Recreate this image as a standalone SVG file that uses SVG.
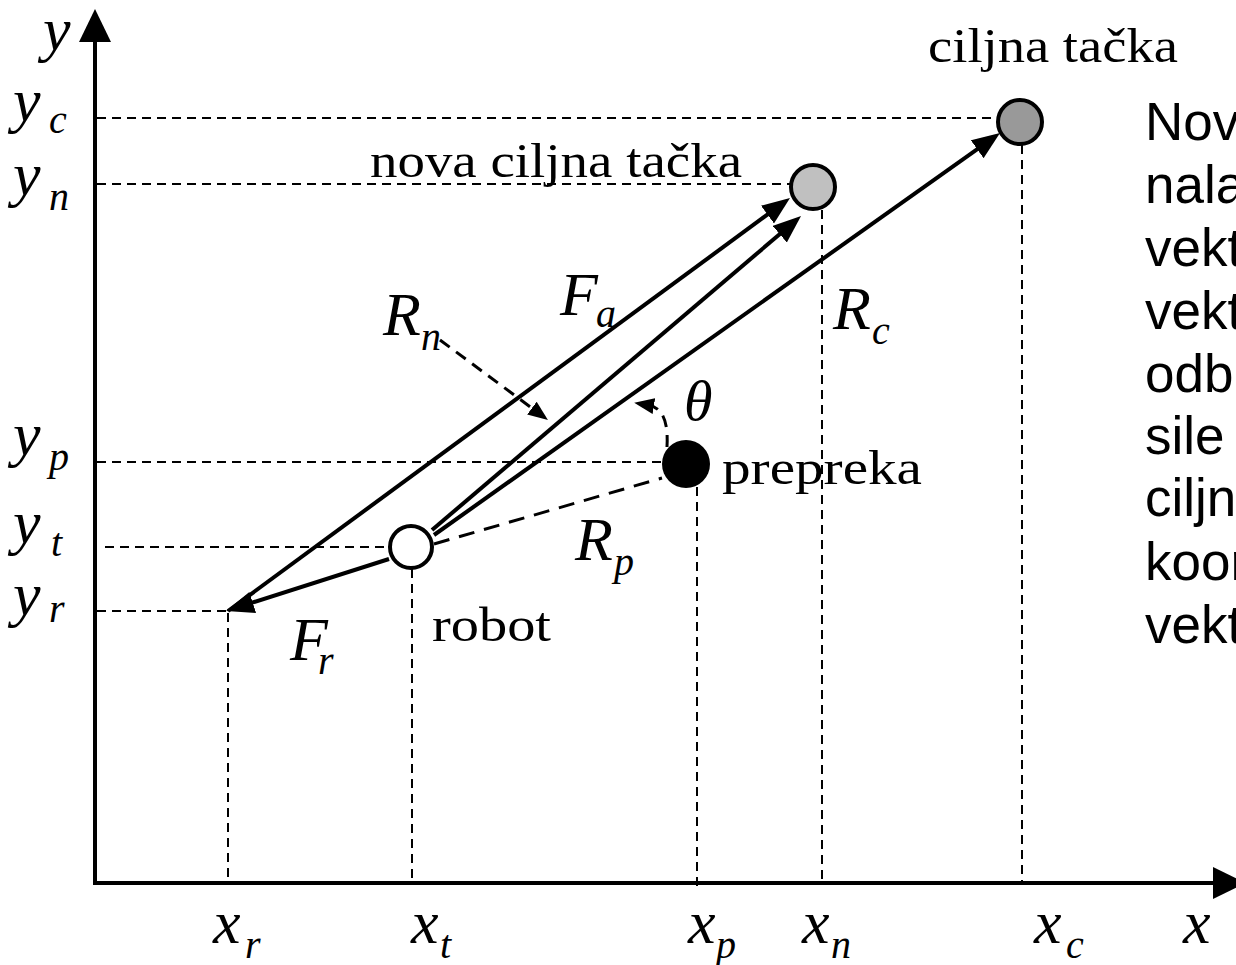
<svg xmlns="http://www.w3.org/2000/svg" width="1236" height="965" viewBox="0 0 1236 965">
<style>
.ax{stroke:#000;stroke-width:4;fill:none}
.gd{stroke:#000;stroke-width:2;stroke-dasharray:9 6;fill:none}
.vec{stroke:#000;stroke-width:4;fill:none;marker-end:url(#ah)}
.pt{stroke:#000;stroke-width:3;stroke-dasharray:12 8;fill:none;marker-end:url(#ahs)}
.it{font-family:"Liberation Serif","Times New Roman",serif;font-style:italic;font-size:62px}
.sub{font-family:"Liberation Serif","Times New Roman",serif;font-style:italic;font-size:40px}
.lb{font-family:"Liberation Serif","Times New Roman",serif;font-size:48px}
.tx{font-family:"Liberation Sans",Arial,sans-serif;font-size:53px}
.node{stroke:#000;stroke-width:4}
</style>
<defs>
<marker id="ah" markerUnits="userSpaceOnUse" markerWidth="30" markerHeight="24" refX="8" refY="11" orient="auto"><path d="M0,0 L28,11 L0,22 z" fill="#000"/></marker>
<marker id="ahs" markerUnits="userSpaceOnUse" markerWidth="22" markerHeight="18" refX="6" refY="8" orient="auto"><path d="M0,0 L20,8 L0,16 z" fill="#000"/></marker>
</defs>
<rect width="1236" height="965" fill="#fff"/>
<g id="guides">
<line class="gd" x1="97" y1="118" x2="998" y2="118"/>
<line class="gd" x1="97" y1="184" x2="791" y2="184"/>
<line class="gd" x1="97" y1="462" x2="664" y2="462"/>
<line class="gd" x1="105" y1="547" x2="389" y2="547"/>
<line class="gd" x1="97" y1="611" x2="226" y2="611"/>
<line class="gd" x1="228" y1="613" x2="228" y2="883"/>
<line class="gd" x1="412" y1="569" x2="412" y2="883"/>
<line class="gd" x1="697" y1="487" x2="697" y2="890"/>
<line class="gd" x1="822" y1="210" x2="822" y2="883"/>
<line class="gd" x1="1022" y1="145" x2="1022" y2="883"/>
</g>
<g id="axes">
<line class="ax" x1="95" y1="885" x2="95" y2="40"/>
<polygon points="95,9 79,42 111,42" fill="#000"/>
<line class="ax" x1="93" y1="883" x2="1215" y2="883"/>
<polygon points="1213,867 1246,883 1213,899" fill="#000"/>
<text class="it" x="43" y="50">y</text>
<text class="it" x="1183" y="943">x</text>
</g>
<g id="connectors">
<path class="vec" d="M434,535 L983.7,144.6"/>
<path class="vec" d="M432,530 L785.8,229"/>
<path class="vec" d="M228,611 L773.9,209.8"/>
<path class="vec" d="M389,559 L245.1,604.9"/>
<path class="pt" d="M440,340 L536.7,411.7"/>
<path class="pt" d="M667,447 C668,428 666,408 648,405"/>
<path d="M434,544 L662,478" stroke="#000" stroke-width="3" stroke-dasharray="16 10" fill="none"/>
</g>
<g id="goal">
<circle class="node" cx="1020" cy="122" r="22" fill="#999999"/>
<text class="lb" x="928" y="62" textLength="250" lengthAdjust="spacingAndGlyphs">ciljna tačka</text>
</g>
<g id="new-goal">
<circle class="node" cx="813" cy="187" r="22" fill="#c0c0c0"/>
<text class="lb" x="370" y="177" textLength="372" lengthAdjust="spacingAndGlyphs">nova ciljna tačka</text>
</g>
<g id="obstacle">
<circle cx="686" cy="464" r="24" fill="#000"/>
<text class="lb" x="722" y="484" textLength="200" lengthAdjust="spacingAndGlyphs">prepreka</text>
</g>
<g id="robot">
<circle class="node" cx="411" cy="547" r="21" fill="#fff"/>
<text class="lb" x="432" y="641" textLength="119" lengthAdjust="spacingAndGlyphs">robot</text>
</g>
<g id="labels">
<text class="it" x="13" y="121">y</text><text class="sub" x="49" y="133">c</text>
<text class="it" x="13" y="195">y</text><text class="sub" x="49" y="210">n</text>
<text class="it" x="13" y="455">y</text><text class="sub" x="49" y="470">p</text>
<text class="it" x="13" y="543">y</text><text class="sub" x="51" y="556">t</text>
<text class="it" x="13" y="615">y</text><text class="sub" x="49" y="622">r</text>
<text class="it" x="213" y="943">x</text><text class="sub" x="245" y="958">r</text>
<text class="it" x="411" y="943">x</text><text class="sub" x="440" y="958">t</text>
<text class="it" x="688" y="943">x</text><text class="sub" x="716" y="958">p</text>
<text class="it" x="802" y="943">x</text><text class="sub" x="831" y="958">n</text>
<text class="it" x="1034" y="943">x</text><text class="sub" x="1066" y="958">c</text>
<text class="it" x="560" y="315">F</text><text class="sub" x="596" y="327">a</text>
<text class="it" x="383" y="335">R</text><text class="sub" x="421" y="350">n</text>
<text class="it" x="833" y="329">R</text><text class="sub" x="872" y="344">c</text>
<text class="it" x="684" y="420" style="font-size:58px">θ</text>
<text class="it" x="575" y="560">R</text><text class="sub" x="614" y="575">p</text>
<text class="it" x="290" y="660">F</text><text class="sub" x="318" y="674">r</text>
</g>
<g id="note">
<text class="tx" x="1145" y="140">Nov</text>
<text class="tx" x="1145" y="203">nala</text>
<text class="tx" x="1145" y="266">vekt</text>
<text class="tx" x="1145" y="329">vekt</text>
<text class="tx" x="1145" y="392">odb</text>
<text class="tx" x="1145" y="454">sile</text>
<text class="tx" x="1145" y="516">ciljn</text>
<text class="tx" x="1145" y="580">koor</text>
<text class="tx" x="1145" y="643">vekt</text>
</g>
</svg>
